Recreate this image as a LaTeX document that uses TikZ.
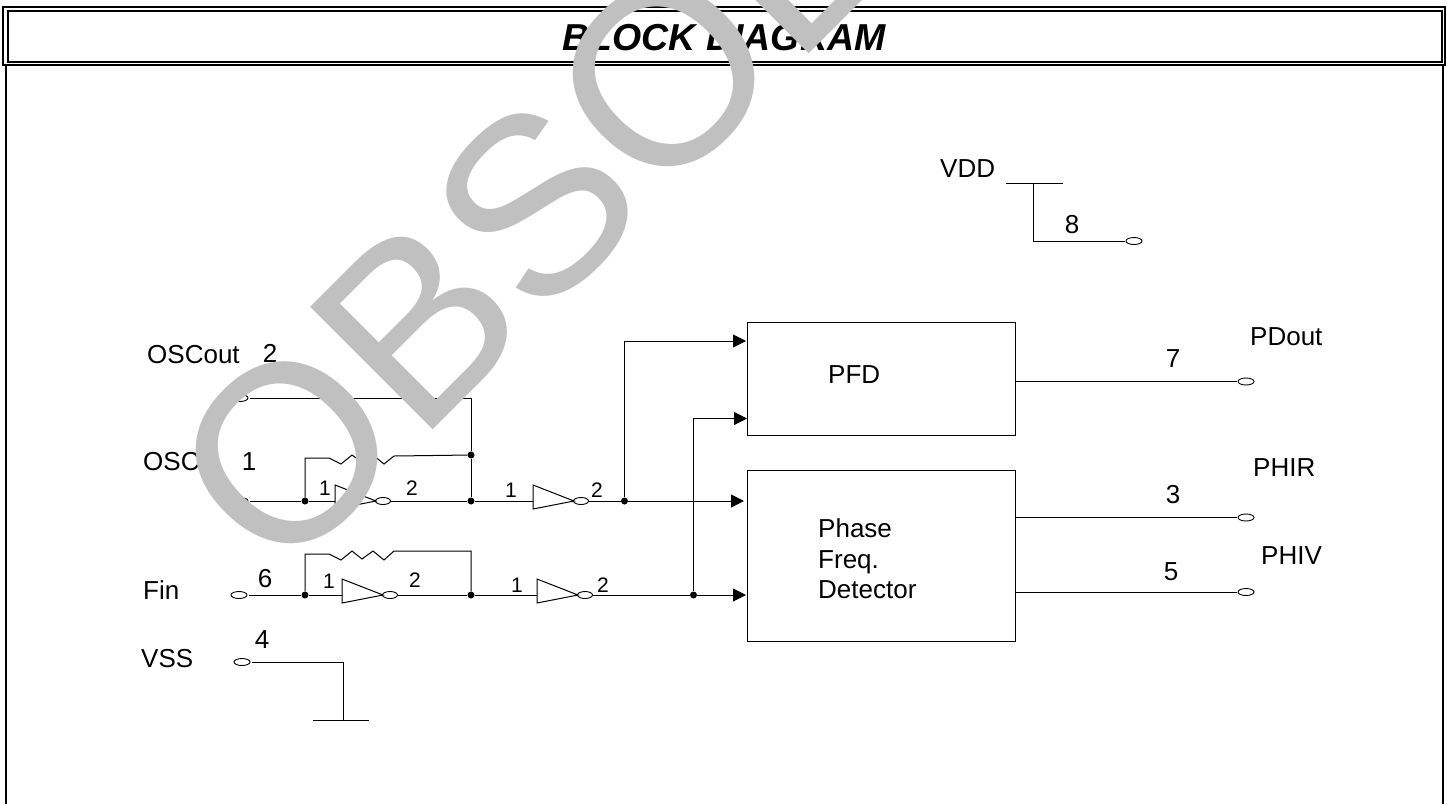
\documentclass[tikz,border=0pt]{standalone}
\usepackage{fontspec}
\setmainfont{Liberation Sans}
\usepackage{tikz}
\usetikzlibrary{arrows.meta,shapes.geometric}
\definecolor{stampgray}{RGB}{192,192,192}
\newcommand{\pxfont}[1]{\fontsize{#1}{#1}\selectfont}
\tikzset{
  wire/.style={line width=1pt},
  sigarrow/.style={line width=1pt, -{Triangle[length=13pt,width=13pt]}},
  framing/.style={line width=2pt},
  blockbox/.style={draw, line width=1pt, inner sep=0pt, anchor=north west},
  pinhole/.style={draw, ellipse, line width=0.9pt, minimum width=16pt, minimum height=7pt, inner sep=0pt, outer sep=1.5pt},
  bubble/.style={draw, ellipse, line width=0.9pt, minimum width=15pt, minimum height=7pt, inner sep=0pt},
  junction/.style={circle, fill=black, minimum size=7pt, inner sep=0pt},
  biglabel/.style={font=\pxfont{26}, inner sep=0pt, anchor=base west},
  pinlabel/.style={font=\pxfont{26}, inner sep=0pt, anchor=base},
  smalllabel/.style={font=\pxfont{21}, inner sep=0pt, anchor=base},
}
\begin{document}
\begin{tikzpicture}[x=1pt,y=-1pt]
  \useasboundingbox (0,0) rectangle (1447,804);

  % frame and heading
  \draw[framing] (3,7) rectangle (1445,65);
  \draw[framing] (8,11) rectangle (1442,62);
  \draw[framing] (6,65) -- (6,804);
  \draw[framing] (1443,65) -- (1443,804);
  \node[font=\pxfont{37.5}\bfseries\itshape, inner sep=0pt, anchor=base] (heading) at (724,50) {BLOCK DIAGRAM};

  % blocks
  \node[blockbox, minimum width=268pt, minimum height=113pt] (blockPFD) at (747,322) {};
  \node[blockbox, minimum width=268pt, minimum height=171pt] (blockDet) at (747,470) {};
  \node[biglabel] (textPFD) at (828,383) {PFD};
  \node[biglabel] (textPhase) at (818,537) {Phase};
  \node[biglabel] (textFreq) at (818,568) {Freq.};
  \node[biglabel] (textDet) at (818,598) {Detector};

  % pins
  \node[pinhole] (pinOut) at (240,398) {};
  \node[pinhole] (pinOsc) at (240,501) {};
  \node[pinhole] (pinFin) at (239,595) {};
  \node[pinhole] (pinVss) at (242,662) {};
  \node[pinhole] (pinVdd) at (1134,241) {};
  \node[pinhole] (pinPD) at (1246,381.5) {};
  \node[pinhole] (pinR) at (1246,517.5) {};
  \node[pinhole] (pinV) at (1246,592) {};

  % inverters
  \foreach \nm/\x/\y/\o in {
    invA/335/501/48,
    invB/533/501/48,
    invC/342/595/48,
    invD/537/595/48%
  } {
    \coordinate (\nm in) at (\x,\y);
    \draw[wire, fill=white] (\x,\y-16) -- (\x+41,\y) -- (\x,\y+8) -- cycle;
    \node[bubble] (\nm out) at (\x+\o,\y) {};
  }

  % junctions
  \node[junction] (jOscIn) at (305,501) {};
  \node[junction] (jOscFb) at (471,455) {};
  \node[junction] (jOscOut) at (471,501) {};
  \node[junction] (jOscBuf) at (624.5,501) {};
  \node[junction] (jFinIn) at (305,595) {};
  \node[junction] (jFinOut) at (471,595) {};
  \node[junction] (jFinBuf) at (693.5,595) {};

  \coordinate (crOut) at (471,398);
  \coordinate (fbOscL) at (305,458);
  \coordinate (fbFinL) at (305,554);
  \coordinate (fbFinR) at (471,551);
  \coordinate (toPFDa) at (746,341);
  \coordinate (toPFDb) at (747,418.5);
  \coordinate (toDetA) at (744,501);
  \coordinate (toDetB) at (746,595);
  \coordinate (pfdOut) at (1015,381.5);
  \coordinate (detOutA) at (1015,517.5);
  \coordinate (detOutB) at (1015,592);
  \coordinate (vddL) at (1006,183);
  \coordinate (vddR) at (1063,183);
  \coordinate (vddM) at (1033,183);
  \coordinate (vddC) at (1033,241);
  \coordinate (vssC) at (343,662);
  \coordinate (vssM) at (343,720);
  \coordinate (vssL) at (313,720);
  \coordinate (vssR) at (369,720);

  % oscillator row
  \draw[wire] (pinOut) -- (crOut) -- (jOscFb) -- (jOscOut);
  \draw[wire] (pinOsc) -- (jOscIn) -- (invAin);
  \draw[wire] (invAout) -- (jOscOut) -- (invBin);
  \draw[wire] (invBout) -- (jOscBuf);
  \draw[wire] (jOscIn) -- (fbOscL) -- (329,458) -- (341,464) -- (352,455) -- (363,463) -- (373,455)
    -- (384,464) -- (394,456) -- (jOscFb);
  \draw[sigarrow] (jOscBuf) -- (toDetA);
  \draw[sigarrow] (jOscBuf) |- (toPFDa);

  % Fin row
  \draw[wire] (pinFin) -- (jFinIn) -- (invCin);
  \draw[wire] (invCout) -- (jFinOut) -- (invDin);
  \draw[wire] (invDout) -- (jFinBuf);
  \draw[wire] (jFinIn) -- (fbFinL) -- (329,554) -- (341,560) -- (352,551) -- (362,559) -- (373,551)
    -- (384,560) -- (394,551) -- (fbFinR) -- (jFinOut);
  \draw[sigarrow] (jFinBuf) -- (toDetB);
  \draw[sigarrow] (jFinBuf) |- (toPFDb);

  % outputs and supplies
  \draw[wire] (pfdOut) -- (pinPD);
  \draw[wire] (detOutA) -- (pinR);
  \draw[wire] (detOutB) -- (pinV);
  \draw[wire] (vddL) -- (vddR);
  \draw[wire] (vddM) -- (vddC) -- (pinVdd);
  \draw[wire] (pinVss) -- (vssC) -- (vssM);
  \draw[wire] (vssL) -- (vssR);

  % pin names
  \node[biglabel] (nameOut) at (147,363) {OSCout};
  \node[biglabel] (nameOsc) at (143,470) {OSC};
  \node[biglabel] (nameFin) at (143,599) {Fin};
  \node[biglabel] (nameVss) at (141,667) {VSS};
  \node[biglabel] (nameVdd) at (940,177) {VDD};
  \node[biglabel] (namePD) at (1250,345) {PDout};
  \node[biglabel] (nameR) at (1253,476) {PHIR};
  \node[biglabel] (nameV) at (1261,564) {PHIV};

  % pin numbers
  \foreach \nm/\x/\y/\t in {
    numOut/270/362/2,
    numOsc/249/470/1,
    numFin/265/587/6,
    numVss/262/648/4,
    numVdd/1072/233/8,
    numPD/1173/367/7,
    numR/1173/503/3,
    numV/1171/580/5%
  } {
    \node[pinlabel] (\nm) at (\x,\y) {\t};
  }
  \foreach \nm/\x/\y/\t in {
    subAin/325/495/1,
    subAout/412/495/2,
    subBin/511/497/1,
    subBout/597/497/2,
    subCin/329/588/1,
    subCout/415/587/2,
    subDin/517/592/1,
    subDout/603/592/2%
  } {
    \node[smalllabel] (\nm) at (\x,\y) {\t};
  }

  % stamp across the sheet
  \begin{scope}
    \clip (0,0) rectangle (1447,804);
    \node[font=\pxfont{252}, text=stampgray, inner sep=0pt, rotate=45, anchor=base west] (stamp) at (279.6,583.4) {OBSOLETE};
  \end{scope}
\end{tikzpicture}
\end{document}
